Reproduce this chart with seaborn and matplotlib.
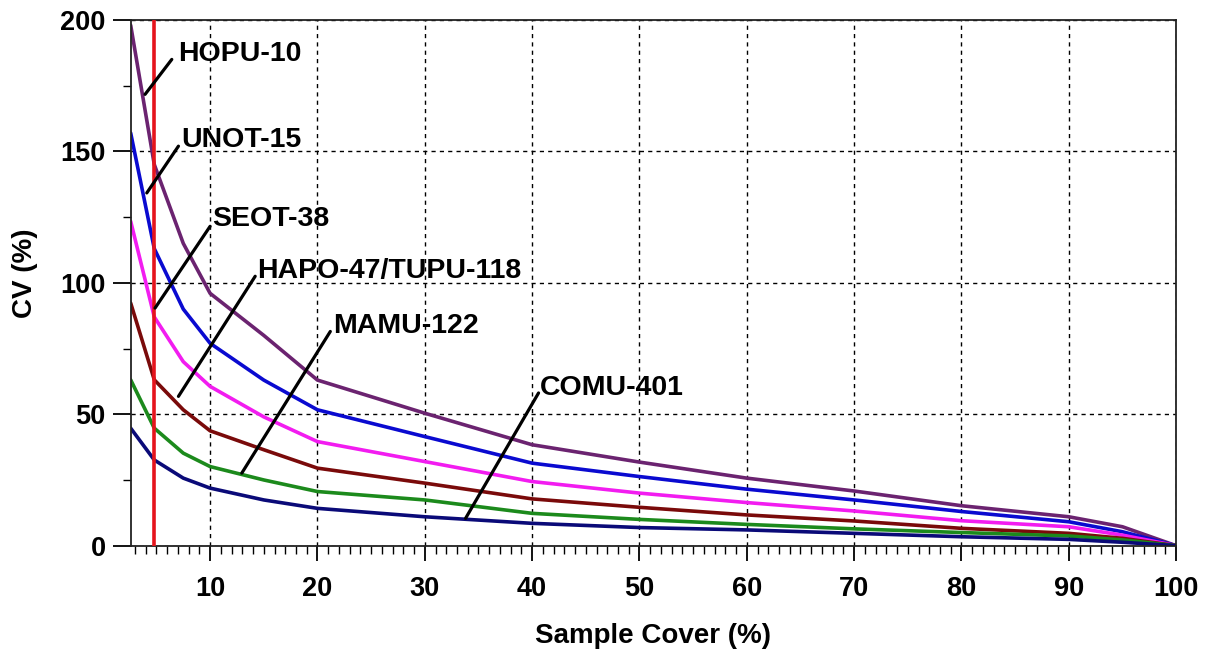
import pandas as pd
import matplotlib
matplotlib.use("Agg")
import matplotlib.pyplot as plt
from matplotlib.ticker import MultipleLocator
import seaborn as sns

# sample cover (%) and CV (%)
cover = [2.6, 4.8, 7.5, 10, 15, 20, 30, 40, 50, 60, 70, 80, 90, 95, 100]
hopu = [198, 145, 115, 96, 80, 63, 50.4, 38.4, 31.8, 25.7, 20.8, 15.2, 11, 7.2, 0]
unot = [157, 113, 90, 77, 63, 51.7, 41.5, 31.4, 26.3, 21.5, 17.4, 13, 9.1, 5.3, 0]
seot = [123.4, 87, 70, 60.6, 49, 39.6, 32, 24.4, 20, 16.4, 13.2, 9.5, 7.2, 4, 0]
hapo = [92.3, 63.1, 51.7, 43.7, 36.5, 29.5, 23.8, 17.8, 14.6, 11.7, 9.4, 6.6, 4.7, 2.8, 0]
mamu = [63.1, 44.7, 35.2, 30.1, 25, 20.6, 17.4, 12.3, 10, 8.1, 6.4, 5, 3.7, 2.2, 0]
comu = [44.7, 32.6, 25.7, 21.9, 17.4, 14.2, 11, 8.5, 6.9, 6, 4.7, 3.4, 2.4, 1.3, 0]

names = ["HOPU-10", "UNOT-15", "SEOT-38", "HAPO-47/TUPU-118", "MAMU-122", "COMU-401"]
colors = ["#6b2370", "#0a0ad0", "#f21cf0", "#7a0a0a", "#1c8a1c", "#0a0a78"]
cutoff = 4.8

rows = []
for name, vals in zip(names, [hopu, unot, seot, hapo, mamu, comu]):
    for x, y in zip(cover, vals):
        rows.append({"cover": x, "cv": y, "series": name})
df = pd.DataFrame(rows)

sns.set_style("white")
plt.rcParams["font.family"] = ["Liberation Sans", "DejaVu Sans"]
plt.rcParams["font.weight"] = "bold"
plt.rcParams["text.color"] = "black"
plt.rcParams["axes.labelcolor"] = "black"
plt.rcParams["xtick.color"] = "black"
plt.rcParams["ytick.color"] = "black"

fig = plt.figure(figsize=(12.1, 6.55), dpi=100)
ax = fig.add_axes([0.108, 0.1669, 0.864, 0.8026])

sns.lineplot(data=df, x="cover", y="cv", hue="series", palette=dict(zip(names, colors)),
             linewidth=2.6, legend=False, ax=ax)
ax.axvline(cutoff, color="#e5141c", linewidth=2.6, zorder=5)

# leader lines and labels
leader_from = [(3.94, 171.7), (4.1, 134.2), (4.87, 90.4), (7.05, 56.8), (12.95, 27.6), (33.8, 10.4)]
leader_to = [(6.43, 185), (7.05, 152), (10.0, 121.5), (14.2, 102.5), (21.2, 81.5), (40.6, 58.1)]
text_at = [(7.0, 184.4), (7.3, 151.6), (10.15, 121.5), (14.35, 101.9), (21.5, 80.9), (40.75, 57.4)]
for name, a, b, t in zip(names, leader_from, leader_to, text_at):
    ax.plot([a[0], b[0]], [a[1], b[1]], color="black", linewidth=2.3, zorder=6)
    ax.text(t[0], t[1], name, fontsize=20.5, fontweight="bold", ha="left", va="baseline",
            color="black", zorder=7)

ax.set_xlim(2.6, 100)
ax.set_ylim(0, 200)
ax.xaxis.set_major_locator(MultipleLocator(10))
ax.xaxis.set_minor_locator(MultipleLocator(1))
ax.yaxis.set_major_locator(MultipleLocator(50))
ax.yaxis.set_minor_locator(MultipleLocator(25))
ax.tick_params(axis="x", which="both", bottom=True, direction="out")
ax.tick_params(axis="y", which="both", left=True, direction="out")
ax.tick_params(axis="x", which="major", length=11, width=1.3, pad=11, labelsize=19.5)
ax.tick_params(axis="x", which="minor", length=6, width=1.0)
ax.tick_params(axis="y", which="major", length=13, width=1.3, pad=5, labelsize=19.5)
ax.tick_params(axis="y", which="minor", length=6, width=1.0)
for lab in ax.get_xticklabels() + ax.get_yticklabels():
    lab.set_fontweight("bold")

ax.grid(True, which="major", color="black", linestyle=(0, (3, 3)), linewidth=1.0)
for s in ax.spines.values():
    s.set_color("#222222")
    s.set_linewidth(1.3)

ax.set_xlabel("Sample Cover (%)", fontsize=20, fontweight="bold")
ax.xaxis.set_label_coords(0.5, -0.148)
ax.xaxis.label.set_va("top")
ax.set_ylabel("")
fig.text(25 / 1210, 1 - 273 / 655, "CV (%)", rotation=90, fontsize=20, fontweight="bold",
         ha="center", va="center")

fig.savefig("out.png", dpi=100)
